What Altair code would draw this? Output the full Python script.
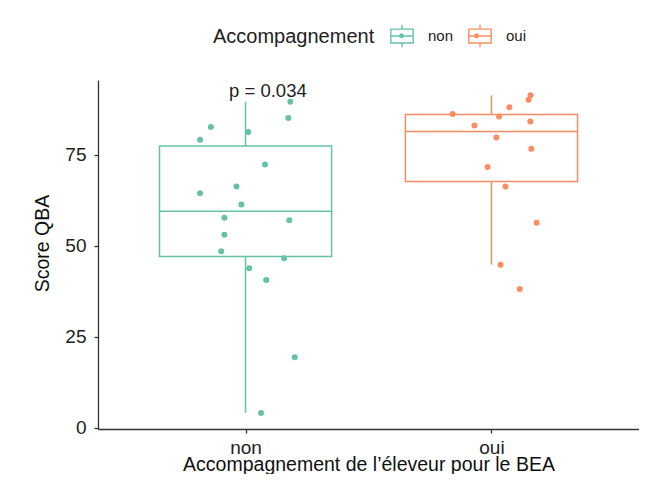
import altair as alt
import numpy as np
import pandas as pd

# ---- data ----
categories = ["non", "oui"]
colors = ["#66C2A5", "#FC8D62"]

non_scores = [89.5, 85.1, 82.6, 81.2, 79.1, 72.3, 66.3, 64.4, 61.3, 57.7,
              57.0, 53.0, 48.5, 46.6, 43.8, 40.6, 19.4, 4.1]
non_jitter = [0.182, 0.174, -0.141, 0.011, -0.185, 0.079, -0.037, -0.185,
              -0.017, -0.086, 0.178, -0.086, -0.099, 0.157, 0.015, 0.084,
              0.200, 0.063]
oui_scores = [91.3, 90.1, 88.0, 86.2, 85.5, 84.1, 83.0, 79.7, 76.6, 71.6,
              66.3, 56.3, 44.8, 38.1]
oui_jitter = [0.159, 0.151, 0.073, -0.158, 0.031, 0.158, -0.069, 0.020,
              0.162, -0.016, 0.057, 0.184, 0.037, 0.115]

p_label = ["p = 0.034"]
p_x = [0.933]
p_y = [90.9]

y_ticks = [0, 25, 50, 75]
x_title = "Accompagnement de l’éleveur pour le BEA"
y_title = "Score QBA"
legend_title = "Accompagnement"

# ---- tables ----
box_width = 0.7
rows = []
pts = []
for i, (cat, sc, jit) in enumerate(zip(categories, [non_scores, oui_scores],
                                       [non_jitter, oui_jitter])):
    a = np.array(sc)
    q1, med, q3 = np.percentile(a, [25, 50, 75])
    iqr = q3 - q1
    lo = a[a >= q1 - 1.5 * iqr].min()
    hi = a[a <= q3 + 1.5 * iqr].max()
    pos = i + 1
    rows.append(dict(cat=cat, pos=pos, left=pos - box_width / 2,
                     right=pos + box_width / 2, q1=q1, med=med, q3=q3,
                     lo=lo, hi=hi))
    for s, j in zip(sc, jit):
        pts.append(dict(cat=cat, xpos=pos + j, score=s))
summary = pd.DataFrame(rows)
points = pd.DataFrame(pts)
ann = pd.DataFrame(dict(label=p_label, x=p_x, y=p_y))

FONT = "Liberation Sans"
x_scale = alt.Scale(domain=[0.4, 2.6], nice=False, zero=False)
y_scale = alt.Scale(domain=[-0.3, 95.5], nice=False, zero=False)

label_expr = "[" + ",".join("'%s'" % c for c in categories) + "][datum.value - 1]"

x_axis = alt.Axis(values=[1, 2], labelExpr=label_expr, title=x_title,
                  labelPadding=5, titleY=41, titleBaseline="alphabetic")
y_axis = alt.Axis(values=y_ticks, title=y_title, labelPadding=8,
                  titleX=-55.5, titleY=163, titleBaseline="middle",
                  titleAlign="center")

box_path = "M-1,-0.62H1V0.62H-1Z M-1,0H1 M0,-1V-0.62 M0,0.62V1"
dot_path = "M-0.22,0A0.22,0.22 0 1,0 0.22,0A0.22,0.22 0 1,0 -0.22,0Z"

leg_common = dict(title=legend_title, orient="none", legendX=115, legendY=-56,
                  direction="horizontal", titleOrient="left", symbolSize=500,
                  labelFontSize=15, titleFontSize=20, titlePadding=15,
                  labelOffset=14, columnPadding=12, labelFont=FONT,
                  titleFont=FONT, titleFontWeight="normal")

stroke_enc = alt.Stroke(
    "cat:N",
    scale=alt.Scale(domain=categories, range=colors),
    legend=alt.Legend(symbolType=box_path, symbolStrokeWidth=1.4,
                      symbolFillColor="transparent", labelColor="#222",
                      titleColor="#222", **leg_common),
)
fill_enc = alt.Fill(
    "cat:N",
    scale=alt.Scale(range=colors),
    legend=alt.Legend(symbolType=dot_path, symbolStrokeWidth=0,
                      symbolStrokeColor="transparent",
                      labelColor="transparent", titleColor="transparent",
                      **leg_common),
)

base_sum = alt.Chart(summary)

whisker = base_sum.mark_rule(strokeWidth=1.5).encode(
    x=alt.X("pos:Q", scale=x_scale, axis=x_axis),
    y=alt.Y("lo:Q", scale=y_scale, axis=y_axis),
    y2="hi:Q",
    stroke=stroke_enc,
)
box = base_sum.mark_rect(fill="white", strokeWidth=1.5).encode(
    x=alt.X("left:Q", scale=x_scale),
    x2="right:Q",
    y=alt.Y("q1:Q", scale=y_scale),
    y2="q3:Q",
    stroke=stroke_enc,
)
median = base_sum.mark_rule(strokeWidth=1.5).encode(
    x=alt.X("left:Q", scale=x_scale),
    x2="right:Q",
    y=alt.Y("med:Q", scale=y_scale),
    stroke=stroke_enc,
)
dots = alt.Chart(points).mark_circle(size=36, opacity=1).encode(
    x=alt.X("xpos:Q", scale=x_scale),
    y=alt.Y("score:Q", scale=y_scale),
    fill=fill_enc,
)
text = alt.Chart(ann).mark_text(align="left", baseline="alphabetic",
                                fontSize=18.5, font=FONT, color="#222").encode(
    x=alt.X("x:Q", scale=x_scale),
    y=alt.Y("y:Q", scale=y_scale),
    text="label:N",
)

chart = alt.layer(whisker, box, median, dots, text).properties(
    width=541, height=349,
    padding={"left": 90, "top": 72, "right": 0, "bottom": 45},
    autosize="none",
    background="white",
).configure_view(stroke=None).configure_axis(
    grid=False, domainColor="#333333", domainWidth=1.3, tickColor="#333333",
    tickWidth=1.3, tickSize=4, labelFont=FONT, labelFontSize=19,
    labelColor="#222222", titleFont=FONT, titleFontSize=19.5,
    titleFontWeight="normal", titleColor="#111111",
)

chart.save("out.html", embed_options={"renderer": "svg", "actions": False})
